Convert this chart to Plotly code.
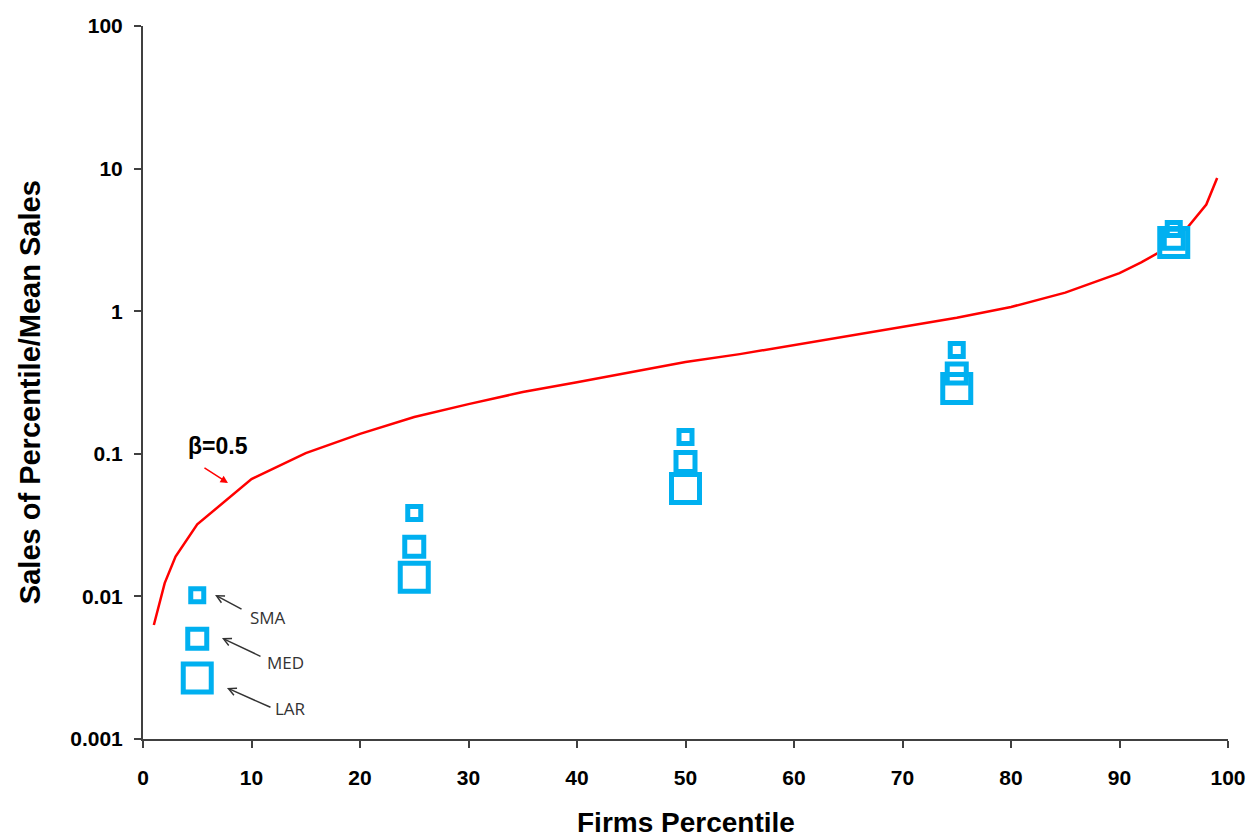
import math
import plotly.graph_objects as go

# Model curve: sales of each firm percentile relative to mean sales (beta = 0.5)
curve_pct = [1, 2, 3, 5, 10, 15, 20, 25, 30, 35, 40, 45, 50, 55, 60, 65, 70, 75,
             80, 85, 90, 92, 95, 96, 97, 98, 99]
curve_ratio = [0.0063, 0.0124, 0.019, 0.032, 0.0665, 0.101, 0.138, 0.181, 0.223,
               0.271, 0.318, 0.375, 0.44, 0.50, 0.58, 0.67, 0.775, 0.90, 1.07,
               1.35, 1.85, 2.2, 2.95, 3.65, 4.5, 5.6, 8.6]

# Observed ratios by firm size group
obs_pct = [5, 25, 50, 75, 95]
sma_ratio = [0.0102, 0.0385, 0.131, 0.535, 3.77]
med_ratio = [0.00504, 0.0223, 0.0875, 0.365, 3.22]
lar_ratio = [0.00268, 0.01365, 0.057, 0.287, 3.03]

y_tick_vals = [0.001, 0.01, 0.1, 1, 10, 100]
y_tick_text = ["0.001", "0.01", "0.1", "1", "10", "100"]
x_tick_vals = list(range(0, 101, 10))

BLUE = "#00B0F0"
AXIS = "#404040"
FONT = "Liberation Sans, Arial, sans-serif"

fig = go.Figure()

fig.add_trace(go.Scatter(x=curve_pct, y=curve_ratio, mode="lines",
                         line=dict(color="#FF0000", width=2.5),
                         hoverinfo="skip", showlegend=False))

groups = [("LAR", lar_ratio, 28), ("MED", med_ratio, 19), ("SMA", sma_ratio, 13)]

# white backing so the curve does not show through the markers
for name, vals, size in groups:
    fig.add_trace(go.Scatter(x=obs_pct, y=vals, mode="markers", name=name,
                             marker=dict(symbol="square", size=size, color="white",
                                         line=dict(width=5, color="white")),
                             hoverinfo="skip", showlegend=False))
# hollow square outlines
for name, vals, size in groups:
    fig.add_trace(go.Scatter(x=obs_pct, y=vals, mode="markers", name=name,
                             marker=dict(symbol="square-open", size=size, color=BLUE,
                                         line=dict(width=5, color=BLUE)),
                             showlegend=False))

L = math.log10
annotations = [
    dict(x=6.9, y=L(0.1135), xref="x", yref="y", text="<b>β=0.5</b>",
         showarrow=False, font=dict(family=FONT, size=23, color="#000000")),
    dict(x=7.83, y=L(0.0624), xref="x", yref="y", text="", showarrow=True,
         ax=-25, ay=-16, arrowhead=2, arrowsize=1, arrowwidth=1.5,
         arrowcolor="#FF0000"),
    dict(x=6.64, y=-1.990, xref="x", yref="y", text="", showarrow=True,
         ax=28, ay=15, arrowhead=5, arrowsize=1, arrowwidth=1.5, arrowcolor="#333333"),
    dict(x=7.28, y=-2.292, xref="x", yref="y", text="", showarrow=True,
         ax=40, ay=19, arrowhead=5, arrowsize=1, arrowwidth=1.5, arrowcolor="#333333"),
    dict(x=7.74, y=-2.642, xref="x", yref="y", text="", showarrow=True,
         ax=45, ay=20, arrowhead=5, arrowsize=1, arrowwidth=1.5, arrowcolor="#333333"),
    dict(x=11.52, y=-2.151, xref="x", yref="y", text="SMA", showarrow=False,
         font=dict(family="Open Sans, sans-serif", size=17, color="#333333")),
    dict(x=13.09, y=-2.467, xref="x", yref="y", text="MED", showarrow=False,
         font=dict(family="Open Sans, sans-serif", size=17, color="#333333")),
    dict(x=13.55, y=-2.783, xref="x", yref="y", text="LAR", showarrow=False,
         font=dict(family="Open Sans, sans-serif", size=17, color="#333333")),
    dict(x=0.5, y=-0.117, xref="paper", yref="paper", text="<b>Firms Percentile</b>",
         showarrow=False, yanchor="middle",
         font=dict(family=FONT, size=28, color="#000000")),
    dict(x=-0.104, y=0.4867, xref="paper", yref="paper",
         text="<b>Sales of Percentile/Mean Sales</b>", textangle=-90,
         showarrow=False, xanchor="center", yanchor="middle",
         font=dict(family=FONT, size=29, color="#000000")),
]

fig.update_layout(
    width=1257, height=840,
    margin=dict(l=143, r=29, t=26, b=101),
    paper_bgcolor="white", plot_bgcolor="white",
    showlegend=False,
    annotations=annotations,
    xaxis=dict(range=[0, 100], tickvals=x_tick_vals, showgrid=False, zeroline=False,
               showline=True, linecolor=AXIS, linewidth=2,
               ticks="outside", ticklen=7, tickwidth=2, tickcolor=AXIS,
               ticklabelstandoff=12,
               tickfont=dict(family=FONT, size=21, color="#000000", weight="bold")),
    yaxis=dict(type="log", range=[-3, 2], tickvals=y_tick_vals, ticktext=y_tick_text,
               showgrid=False, zeroline=False,
               showline=True, linecolor=AXIS, linewidth=2,
               ticks="outside", ticklen=7, tickwidth=2, tickcolor=AXIS,
               ticklabelstandoff=7,
               tickfont=dict(family=FONT, size=21, color="#000000", weight="bold")),
)

fig.write_html("out.html")
